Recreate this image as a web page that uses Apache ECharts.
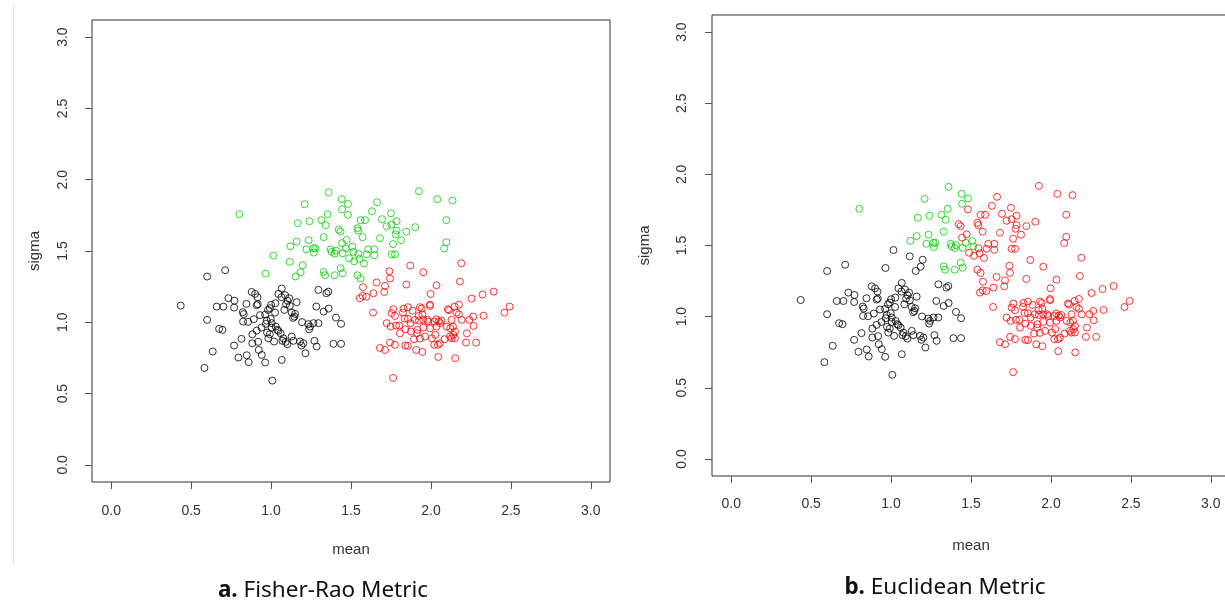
<!DOCTYPE html>
<html>
<head>
<meta charset="utf-8">
<script src="https://cdn.jsdelivr.net/npm/echarts@6/dist/echarts.min.js"></script>
<style>
html,body{margin:0;padding:0;background:#fff;}
#chart{width:1225px;height:604px;}
</style>
</head>
<body>
<div id="chart"></div>
<script>
// tick labels shared by both panels
const tickValues = [0, 0.5, 1.0, 1.5, 2.0, 2.5, 3.0];
const panelTitles = ['a.', 'b.'];
const panelNames = ['Fisher-Rao Metric', 'Euclidean Metric'];

// points black in both panels
const blackPts = [
[0.600,1.321],[0.713,1.365],[0.435,1.117],[0.600,1.017],[0.635,0.795],[0.583,0.680],[0.660,1.110],[0.702,1.110],
[0.733,1.169],[0.771,1.152],[0.769,1.103],[0.675,0.954],[0.696,0.947],[0.823,1.071],[0.846,1.129],[0.829,1.057],
[0.825,1.005],[0.856,1.003],[0.892,1.022],[0.815,0.884],[0.769,0.837],[0.796,0.753],[0.848,0.769],[0.860,0.720],
[0.879,1.213],[0.900,1.199],[0.915,1.176],[0.917,1.127],[0.910,1.120],[0.931,1.050],[0.963,1.054],[0.967,0.989],
[0.973,1.012],[0.998,1.024],[1.000,1.122],[0.992,1.099],[0.981,1.087],[1.004,0.994],[0.883,0.916],[0.910,0.942],
[0.940,0.963],[0.883,0.853],[0.923,0.806],[0.942,0.771],[0.963,0.718],[0.919,0.863],[0.975,0.928],[0.992,0.916],
[1.004,0.963],[1.029,0.970],[1.038,0.947],[1.046,0.940],[1.025,1.068],[1.027,1.134],[1.067,1.237],[1.046,1.199],
[1.065,1.176],[1.088,1.190],[1.113,1.169],[1.104,1.150],[1.094,1.127],[1.083,1.087],[1.117,1.115],[1.160,1.141],
[1.129,1.068],[1.150,1.059],[1.138,1.031],[1.146,1.040],[1.060,0.923],[1.077,0.888],[1.092,0.863],[1.102,0.846],
[1.071,0.870],[1.019,0.865],[0.983,0.888],[1.129,0.900],[1.140,0.870],[1.181,0.865],[1.190,0.837],[1.202,0.853],
[1.215,0.783],[1.067,0.736],[1.194,1.001],[1.233,0.987],[1.244,0.970],[1.238,0.951],[1.265,0.994],[1.296,0.994],
[1.283,1.110],[1.329,1.075],[1.360,1.096],[1.296,1.227],[1.346,1.204],[1.358,1.215],[1.406,1.033],[1.438,0.989],
[1.271,0.870],[1.285,0.830],[1.390,0.849],[1.438,0.849],[1.008,0.591]
];

// points red in both panels
const redPts = [
[2.190,1.414],[1.871,1.398],[1.740,1.358],[1.952,1.351],[1.744,1.307],[1.575,1.246],[1.660,1.279],[1.713,1.255],
[1.708,1.213],[1.846,1.265],[2.035,1.260],[2.181,1.286],[1.998,1.199],[1.556,1.169],[1.573,1.185],[1.596,1.180],
[1.640,1.204],[1.638,1.068],[2.254,1.166],[2.323,1.194],[2.392,1.215],[2.492,1.110],[2.460,1.068],[2.329,1.047],
[1.765,1.092],[1.754,1.064],[1.775,1.045],[1.829,1.096],[1.856,1.106],[1.825,1.068],[1.885,1.082],[1.931,1.106],
[1.942,1.096],[1.994,1.124],[1.994,1.115],[1.946,1.054],[1.923,1.045],[1.723,0.994],[1.748,0.970],[1.781,0.977],
[1.802,0.977],[1.835,1.026],[1.856,1.024],[1.873,0.994],[1.900,1.017],[1.925,1.012],[1.952,1.017],[1.977,1.017],
[1.983,1.005],[1.806,0.923],[1.840,0.951],[1.875,0.935],[1.915,0.947],[1.913,0.923],[1.952,0.963],[1.994,0.958],
[2.021,1.005],[2.033,1.021],[2.048,1.007],[2.056,0.994],[2.065,1.012],[2.106,1.092],[2.113,1.085],[2.148,1.110],
[2.175,1.124],[2.160,1.068],[2.175,1.056],[2.129,1.017],[2.192,1.017],[2.240,1.017],[2.265,1.040],[2.267,0.975],
[2.098,0.970],[2.121,0.958],[2.138,0.970],[2.150,0.935],[2.140,0.912],[2.119,0.900],[2.150,0.888],[2.129,0.888],
[2.035,0.970],[2.027,0.912],[2.006,0.888],[2.021,0.842],[2.044,0.842],[2.056,0.853],[2.085,0.881],[1.894,0.881],
[1.931,0.886],[1.963,0.900],[1.744,0.858],[1.775,0.842],[1.681,0.820],[1.713,0.806],[1.840,0.837],[1.856,0.835],
[1.908,0.806],[1.946,0.792],[2.225,0.923],[2.219,0.858],[2.283,0.858],[2.046,0.757],[2.152,0.748],[1.763,0.610]
];

// green in panel a, black in panel b
const greenToBlack = [[1.015,1.468],[1.117,1.424],[1.198,1.400],[0.965,1.342],[1.185,1.351],[1.154,1.321]];

// green in both panels
const greenToGreen = [
[0.802,1.758],[1.210,1.828],[1.360,1.912],[1.442,1.863],[1.444,1.793],[1.354,1.758],[1.315,1.716],[1.342,1.681],
[1.167,1.695],[1.240,1.709],[1.329,1.597],[1.235,1.576],[1.160,1.566],[1.121,1.533],[1.221,1.512],[1.265,1.519],
[1.277,1.519],[1.267,1.489],[1.373,1.512],[1.379,1.494],[1.406,1.503],[1.398,1.482],[1.448,1.484],[1.329,1.353],
[1.338,1.330],[1.398,1.330],[1.435,1.379],[1.481,1.830],[1.508,1.531],[1.467,1.519],[1.515,1.494],[1.448,1.344]
];

// green in panel a, red in panel b
const greenToRed = [
[1.423,1.650],[1.435,1.636],[1.444,1.555],[1.925,1.919],[2.040,1.863],[2.135,1.854],[1.481,1.753],[1.663,1.842],
[1.631,1.779],[1.750,1.765],[1.560,1.716],[1.588,1.716],[1.694,1.723],[1.785,1.709],[2.096,1.716],[1.723,1.674],
[1.754,1.685],[1.540,1.660],[1.546,1.643],[1.785,1.643],[1.846,1.636],[1.902,1.667],[1.779,1.618],[1.681,1.590],
[1.573,1.597],[1.813,1.576],[1.473,1.578],[1.763,1.548],[2.096,1.561],[2.083,1.517],[1.608,1.512],[1.646,1.512],
[1.546,1.480],[1.598,1.477],[1.646,1.470],[1.754,1.477],[1.775,1.477],[1.488,1.449],[1.554,1.445],[1.519,1.428],
[1.581,1.412],[1.540,1.330],[1.560,1.307]
];

const COL = {black:'#000000', green:'#00CD00', red:'#FF0000'};
const axisFont = 'Liberation Sans, Arial, sans-serif';
const textCol = '#333333';

function xAx(gi, nameGap, margin){
  return {
    gridIndex: gi, type:'value', min:-0.12, max:3.12,
    name:'mean', nameLocation:'middle', nameGap:nameGap,
    nameTextStyle:{fontFamily:axisFont, fontSize:15, color:textCol},
    axisLine:{show:false, onZero:false},
    axisTick:{show:true, inside:false, length:7, customValues:tickValues, lineStyle:{color:'#555', width:1}},
    axisLabel:{show:true, customValues:tickValues, margin:margin, fontFamily:axisFont, fontSize:14, color:textCol,
      formatter:v=>Number(v).toFixed(1)},
    splitLine:{show:false}
  };
}
function yAx(gi, nameGap, margin){
  return {
    gridIndex: gi, type:'value', min:-0.12, max:3.12,
    name:'sigma', nameLocation:'middle', nameGap:nameGap, nameRotate:90,
    nameTextStyle:{fontFamily:axisFont, fontSize:15, color:textCol},
    axisLine:{show:false, onZero:false},
    axisTick:{show:true, inside:false, length:7, customValues:tickValues, lineStyle:{color:'#555', width:1}},
    axisLabel:{show:true, customValues:tickValues, rotate:90, margin:margin, fontFamily:axisFont, fontSize:14, color:textCol,
      formatter:v=>Number(v).toFixed(1)},
    splitLine:{show:false}
  };
}
function sc(gi, data, color){
  return {
    type:'scatter', xAxisIndex:gi, yAxisIndex:gi, data:data, symbol:'circle', symbolSize:7,
    itemStyle:{color:'rgba(0,0,0,0)', borderColor:color, borderWidth:1}, silent:true
  };
}

const chart = echarts.init(document.getElementById('chart'), null, {renderer:'canvas'});
chart.setOption({
  animation:false,
  backgroundColor:'#ffffff',
  grid:[
    {left:92, top:20, width:518, height:462, show:true, borderColor:textCol, borderWidth:1,
      backgroundColor:'transparent', outerBoundsMode:'none', containLabel:false},
    {left:712, top:15, width:518, height:461, show:true, borderColor:textCol, borderWidth:1,
      backgroundColor:'transparent', outerBoundsMode:'none', containLabel:false}
  ],
  xAxis:[xAx(0, 60, 22), xAx(1, 62, 21)],
  yAxis:[yAx(0, 50, 22), yAx(1, 60, 23)],
  series:[
    sc(0, blackPts, COL.black),
    sc(0, greenToBlack.concat(greenToGreen, greenToRed), COL.green),
    sc(0, redPts, COL.red),
    sc(1, blackPts.concat(greenToBlack), COL.black),
    sc(1, greenToGreen, COL.green),
    sc(1, redPts.concat(greenToRed), COL.red)
  ],
  graphic:[
    {type:'line', shape:{x1:13.5, y1:5, x2:13.5, y2:565}, style:{stroke:'#d3e4f5', lineWidth:1}},
    {type:'text', x:323, y:591, style:{text:'{b|'+panelTitles[0]+'} '+panelNames[0], align:'center', verticalAlign:'middle',
      fontFamily:'Noto Sans', fontSize:22.5, fill:'#111',
      rich:{b:{fontFamily:'Noto Sans', fontSize:22.5, fontWeight:'bold', fill:'#111'}}}},
    {type:'text', x:945, y:588, style:{text:'{b|'+panelTitles[1]+'} '+panelNames[1], align:'center', verticalAlign:'middle',
      fontFamily:'Noto Sans', fontSize:22.5, fill:'#111',
      rich:{b:{fontFamily:'Noto Sans', fontSize:22.5, fontWeight:'bold', fill:'#111'}}}}
  ]
});
</script>
</body>
</html>
